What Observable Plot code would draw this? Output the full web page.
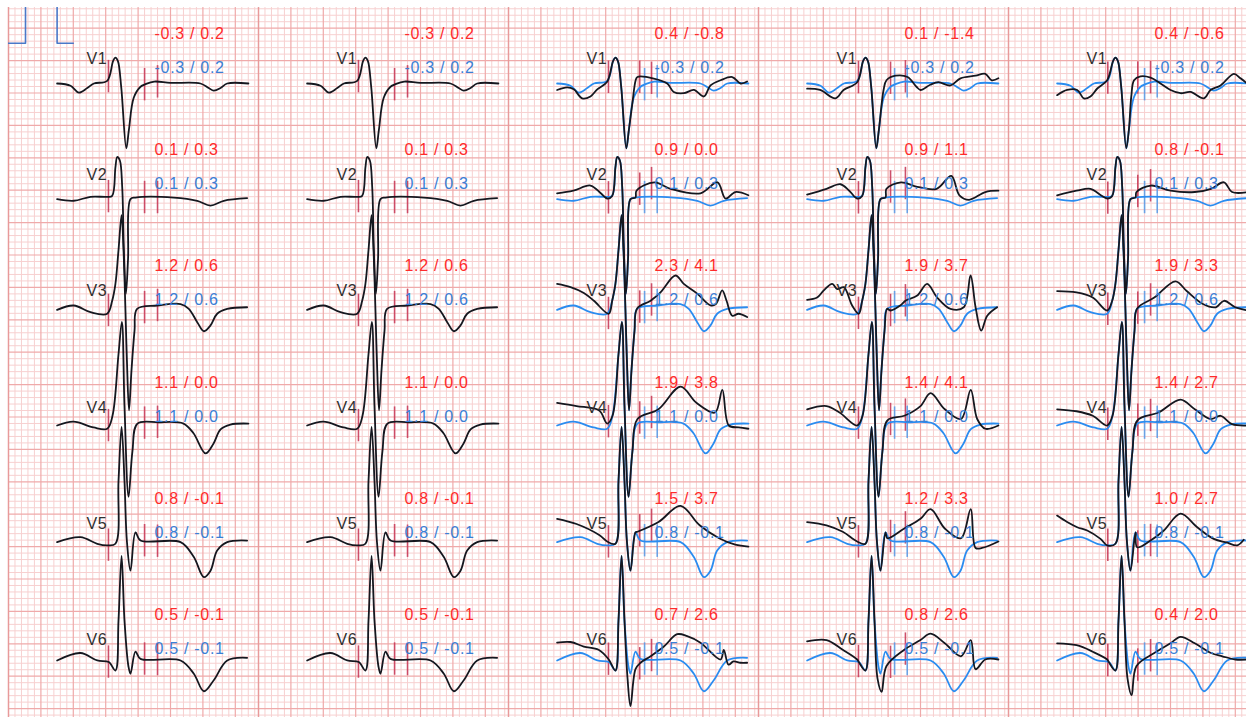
<!DOCTYPE html>
<html><head><meta charset="utf-8">
<script src="https://cdn.jsdelivr.net/npm/d3@7"></script>
<script src="https://cdn.jsdelivr.net/npm/@observablehq/plot@0.6"></script>
<style>html,body{margin:0;padding:0;background:#fff;overflow:hidden}#chart text{letter-spacing:0.7px}</style>
</head><body><div id="chart"></div>
<script>
// ---------- data ----------
const leads = ["V1","V2","V3","V4","V5","V6"];

// ST values shown in red per column (lead order V1..V6)
const redCol1 = ["-0.3 / 0.2","0.1 / 0.3","1.2 / 0.6","1.1 / 0.0","0.8 / -0.1","0.5 / -0.1"];
const redCol2 = ["-0.3 / 0.2","0.1 / 0.3","1.2 / 0.6","1.1 / 0.0","0.8 / -0.1","0.5 / -0.1"];
const redCol3 = ["0.4 / -0.8","0.9 / 0.0","2.3 / 4.1","1.9 / 3.8","1.5 / 3.7","0.7 / 2.6"];
const redCol4 = ["0.1 / -1.4","0.9 / 1.1","1.9 / 3.7","1.4 / 4.1","1.2 / 3.3","0.8 / 2.6"];
const redCol5 = ["0.4 / -0.6","0.8 / -0.1","1.9 / 3.3","1.4 / 2.7","1.0 / 2.7","0.4 / 2.0"];
// reference values shown in blue (same in every column)
const blueLabels = ["-0.3 / 0.2","0.1 / 0.3","1.2 / 0.6","1.1 / 0.0","0.8 / -0.1","0.5 / -0.1"];

// reference beat per lead: [time ms from column start, amplitude mV]
const tplV1 = [[300,0],[383,-0.035],[434,-0.14],[486,-0.07],[527,0],[609,0.04],[646,0.35],[660,0.40],[675,0.35],[696,-0.06],[727,-1.0],[743,-0.72],[773,-0.22],[815,-0.05],[846,-0.01],[900,0.03],[1000,0.01],[1185,0],[1236,-0.07],[1267,-0.11],[1309,-0.07],[1350,0],[1481,0]];
const tplV2 = [[300,-0.01],[403,-0.035],[506,0.026],[609,0.026],[640,0.04],[660,0.48],[671,0.64],[687,0.59],[702,0.17],[712,-0.8],[725,-1.47],[738,-0.93],[753,-0.01],[784,0.015],[1020,0.015],[1165,-0.035],[1247,-0.11],[1329,-0.035],[1473,0.005]];
const tplV3 = [[300,0.01],[403,0.077],[506,-0.026],[609,-0.05],[640,0.15],[660,0.41],[679,0.93],[698,1.47],[710,0.93],[722,0],[731,-0.77],[744,-1.54],[759,-0.93],[778,-0.31],[794,0.026],[918,0.077],[1062,0.1],[1113,0.026],[1165,-0.18],[1206,-0.32],[1247,-0.23],[1288,-0.05],[1350,0.026],[1473,0.05]];
const tplV4 = [[300,0],[401,0.06],[525,-0.03],[609,-0.05],[642,0.15],[679,1.1],[700,1.6],[716,0.3],[741,-1.1],[765,-0.4],[796,0.03],[926,0.05],[1080,0.03],[1142,-0.12],[1216,-0.43],[1265,-0.28],[1309,-0.06],[1370,0.015],[1481,0.03]];
const tplV5 = [[300,-0.01],[444,0.066],[548,-0.035],[609,-0.06],[660,-0.035],[679,0.93],[698,1.77],[716,0.93],[731,0],[753,-0.45],[784,0.14],[815,0.015],[1062,-0.01],[1144,-0.24],[1206,-0.55],[1247,-0.45],[1288,-0.14],[1350,-0.01],[1473,0.015]];
const tplV6 = [[300,-0.015],[444,0.1],[548,-0.015],[619,-0.04],[660,-0.17],[679,0.6],[698,1.6],[716,0.6],[740,-0.1],[753,-0.22],[784,0.12],[815,0.01],[1062,-0.015],[1144,-0.22],[1206,-0.49],[1267,-0.32],[1350,-0.015],[1473,0.026]];

// current beats (black) in columns 3-5: segment before QRS and after QRS, per lead
const col3Pre = [
  [[300,-0.1],[362,-0.06],[403,-0.09],[455,-0.23],[506,-0.2],[548,-0.09],[609,0.026]],
  [[300,0.08],[400,0.12],[506,0.2],[570,0.08],[609,0]],
  [[300,0.41],[383,0.36],[465,0.27],[527,0.15],[619,-0.05]],
  [[300,0.35],[420,0.3],[560,0.23],[609,0.03]],
  [[300,0.35],[420,0.27],[560,0.1],[609,0]],
  [[300,0.26],[383,0.27],[465,0.2],[556,0.15],[619,0]]];
const col3Post = [
  [[765,-0.3],[785,0.05],[796,0.1],[897,0.077],[980,0],[1020,-0.13],[1082,-0.15],[1144,-0.1],[1206,-0.2],[1247,-0.03],[1309,0.05],[1381,0.1],[1432,0],[1473,0.03]],
  [[790,0.12],[900,0.25],[1000,0.15],[1185,0.08],[1290,0.25],[1340,0.0],[1400,0.1],[1481,0.05]],
  [[794,0.03],[877,0.15],[938,0.28],[1031,0.54],[1082,0.41],[1165,0.26],[1247,0.08],[1280,0.1],[1319,0.31],[1346,0.15],[1381,-0.08],[1420,-0.05],[1473,-0.1]],
  [[796,0.1],[926,0.25],[1062,0.6],[1160,0.35],[1275,0.2],[1320,0.55],[1360,0.0],[1420,-0.03],[1481,-0.05]],
  [[796,0.15],[926,0.3],[1062,0.55],[1180,0.25],[1300,0.05],[1400,-0.05],[1481,-0.08]],
  [[735,-0.3],[753,-0.72],[784,-0.15],[815,-0.05],[877,0.05],[959,0.2],[1041,0.39],[1103,0.36],[1185,0.26],[1309,0],[1329,0.15],[1358,-0.08],[1389,-0.03],[1432,-0.05],[1473,-0.05]]];
const col4Pre = [
  [[300,-0.08],[380,-0.1],[475,-0.23],[525,-0.1],[609,0.02]],
  [[300,0.06],[420,0.15],[506,0.22],[560,0.12],[609,0]],
  [[300,0.165],[362,0.2],[403,0.31],[455,0.41],[486,0.33],[527,0.36],[578,0.077],[619,-0.05]],
  [[300,0.25],[420,0.3],[500,0.2],[609,0]],
  [[300,0.3],[420,0.25],[520,0.15],[609,0]],
  [[300,0.28],[420,0.3],[520,0.15],[609,0]]];
const col4Post = [
  [[772,-0.1],[790,0.05],[846,0.12],[920,0.1],[975,-0.05],[1000,-0.1],[1060,-0.02],[1110,0.02],[1185,-0.03],[1247,0.08],[1340,0.12],[1400,0.15],[1440,0.05],[1481,0.08]],
  [[790,0.15],[880,0.25],[980,0.18],[1100,0.15],[1190,0.35],[1240,0.05],[1300,-0.02],[1400,0.1],[1481,0.12]],
  [[815,0],[877,0.08],[907,0.15],[980,0.23],[1041,0.41],[1103,0.2],[1185,0.026],[1267,0.05],[1309,0.54],[1340,0.05],[1375,-0.31],[1412,-0.08],[1473,0.05]],
  [[796,0.08],[900,0.15],[1000,0.3],[1062,0.5],[1150,0.25],[1250,0.1],[1310,0.55],[1350,0.1],[1400,-0.05],[1481,0.0]],
  [[796,0.05],[900,0.2],[1000,0.35],[1062,0.5],[1150,0.2],[1250,0.05],[1310,0.5],[1340,-0.1],[1380,-0.1],[1481,0.0]],
  [[735,-0.3],[760,-0.5],[790,-0.1],[900,0.15],[1000,0.3],[1062,0.4],[1150,0.25],[1250,0.05],[1310,0.3],[1340,-0.15],[1400,0],[1481,0]]];
const col5Pre = [
  [[300,-0.18],[362,-0.1],[424,-0.1],[465,-0.23],[506,-0.2],[548,-0.077],[609,0.05]],
  [[300,0.05],[420,0.12],[506,0.15],[570,0.05],[609,0]],
  [[300,0.3],[420,0.28],[520,0.2],[609,0]],
  [[300,0.25],[420,0.22],[520,0.15],[609,0]],
  [[300,0.4],[362,0.3],[424,0.22],[486,0.17],[568,0.04],[609,-0.06]],
  [[300,0.25],[420,0.22],[520,0.12],[609,0]]];
const col5Post = [
  [[758,-0.2],[775,0.05],[815,0.11],[877,0.09],[938,0],[1000,-0.1],[1062,-0.15],[1123,-0.13],[1206,-0.23],[1247,-0.1],[1309,-0.03],[1391,0.15],[1432,0.08],[1473,0]],
  [[790,0.1],[880,0.2],[1000,0.12],[1150,0.1],[1250,0.15],[1330,0.25],[1380,0.1],[1481,0.1]],
  [[794,0.03],[900,0.2],[1031,0.45],[1100,0.3],[1200,0.1],[1280,0.05],[1330,0.15],[1400,0.05],[1481,0.0]],
  [[796,0.08],[926,0.2],[1062,0.4],[1150,0.25],[1250,0.1],[1310,0.15],[1380,0.02],[1481,0]],
  [[794,-0.09],[877,0.015],[959,0.17],[1062,0.43],[1165,0.22],[1267,0.04],[1346,-0.015],[1412,-0.06],[1452,0.026]],
  [[735,-0.3],[760,-0.55],[790,-0.1],[900,0.1],[1000,0.25],[1062,0.35],[1150,0.25],[1250,0.1],[1320,0.05],[1400,0],[1481,0]]];

// caliper marks (ms from column start)
const redMarksCol12 = [617, 840, 920];
const redMarksCol3 = [617, 810, 883];
const redMarksCol4 = [617, 815, 907];
const redMarksCol5 = [613, 798, 877];
const blueMarks = [840, 918];

// calibration pulse of the strip above (ms, mV)
const calibration = [[0,0],[105,0],[105,1],[300,1],[300,0],[400,0]];

// ---------- layout ----------
const W = 1246, H = 717;
const PX_PER_MM = 6.48, MM_PER_MS = 0.025, MM_PER_MV = 10;
const colLeftPx = c => 8 + 250 * c;
const baselinePx = [83, 198, 310, 425, 541, 659];
const rowPitch = 116.3;
const toX = (c, t) => colLeftPx(c) / PX_PER_MM + t * MM_PER_MS;
const toY = (l, v) => baselinePx[l] / PX_PER_MM - v * MM_PER_MV;

const templates = [tplV1, tplV2, tplV3, tplV4, tplV5, tplV6];
const redCols = [redCol1, redCol2, redCol3, redCol4, redCol5];
const pres = [null, null, col3Pre, col4Pre, col5Pre];
const posts = [null, null, col3Post, col4Post, col5Post];
const redMarks = [redMarksCol12, redMarksCol12, redMarksCol3, redMarksCol4, redMarksCol5];

function compose(tpl, pre, post) {
  const a = pre[pre.length - 1][0], b = post[0][0];
  return [...pre, ...tpl.filter(d => d[0] > a && d[0] < b), ...post];
}
function valueAt(pts, t) {
  for (let i = 1; i < pts.length; i++) {
    if (pts[i][0] >= t) {
      const [t0, v0] = pts[i - 1], [t1, v1] = pts[i];
      return v0 + (v1 - v0) * (t - t0) / (t1 - t0);
    }
  }
  return pts[pts.length - 1][1];
}

const blueRows = [], blackRows = [], redMarkRows = [], blueMarkRows = [], textRows = [];
for (let c = 0; c < 5; c++) {
  for (let l = 0; l < 6; l++) {
    const tpl = templates[l];
    const cur = c < 2 ? tpl : compose(tpl, pres[c][l], posts[c][l]);
    if (c >= 2) tpl.forEach(([t, v]) => blueRows.push({z: `${c}-${l}`, x: toX(c, t), y: toY(l, v)}));
    cur.forEach(([t, v]) => blackRows.push({z: `${c}-${l}`, x: toX(c, t), y: toY(l, v)}));
    redMarks[c].forEach(t => {
      const v = valueAt(cur, t);
      redMarkRows.push({x: toX(c, t), y1: toY(l, v + 0.25), y2: toY(l, v - 0.25)});
    });
    if (c >= 2) blueMarks.forEach(t => {
      const v = valueAt(tpl, t);
      blueMarkRows.push({x: toX(c, t), y1: toY(l, v + 0.25), y2: toY(l, v - 0.25)});
    });
    const xText = (colLeftPx(c) + 146) / PX_PER_MM;
    textRows.push({x: xText, y: (33 + rowPitch * l) / PX_PER_MM, text: redCols[c][l], fill: "#ff2b2b"});
    textRows.push({x: xText, y: (67 + rowPitch * l) / PX_PER_MM, text: blueLabels[l], fill: "#3a7fd6"});
    textRows.push({x: (colLeftPx(c) + 78) / PX_PER_MM, y: (58 + rowPitch * l) / PX_PER_MM, text: leads[l], fill: "#303030"});
  }
}
const calRows = calibration.map(([t, v]) => ({x: toX(0, t), y: 42.7 / PX_PER_MM - v * MM_PER_MV}));

// grid (1 mm minor, 5 mm major)
const vMinor = [], vMajor = [], vSep = [];
for (let c = 0; c < 5; c++) {
  for (let k = 0; k * PX_PER_MM < 249.5; k++) {
    const xpx = colLeftPx(c) + k * PX_PER_MM;
    if (xpx > W) break;
    const xm = xpx / PX_PER_MM;
    if (k === 0) vSep.push(xm); else if (k % 5 === 0) vMajor.push(xm); else vMinor.push(xm);
  }
}
const hMinor = [], hMajor = [];
for (let k = 0; ; k++) {
  const ypx = -4.7 + PX_PER_MM * k;
  if (ypx > H + 1) break;
  if (ypx < 7) continue;
  (k % 5 === 0 ? hMajor : hMinor).push(ypx / PX_PER_MM);
}

const font = "'Liberation Sans', Arial, Helvetica, sans-serif";
const chart = Plot.plot({
  width: W, height: H,
  marginTop: 7, marginLeft: 8, marginRight: 0, marginBottom: 0,
  x: {domain: [8 / PX_PER_MM, W / PX_PER_MM], range: [8, W], axis: null},
  y: {domain: [7 / PX_PER_MM, H / PX_PER_MM], range: [7, H], axis: null},
  style: {background: "#fff"},
  marks: [
    Plot.ruleX(vMinor, {stroke: "#f7d0d0", strokeWidth: 1}),
    Plot.ruleY(hMinor, {stroke: "#f7d0d0", strokeWidth: 1}),
    Plot.ruleX(vMajor, {stroke: "#efaaaa", strokeWidth: 1.2}),
    Plot.ruleY(hMajor, {stroke: "#efaaaa", strokeWidth: 1.2}),
    Plot.ruleX(vSep, {stroke: "#e89a9a", strokeWidth: 1.5}),
    Plot.line(calRows, {x: "x", y: "y", stroke: "#4a78c8", strokeWidth: 1.6, clip: true}),
    Plot.ruleX(redMarkRows, {x: "x", y1: "y1", y2: "y2", stroke: "#c83c5a", strokeWidth: 1.6, strokeOpacity: 0.9}),
    Plot.ruleX(blueMarkRows, {x: "x", y1: "y1", y2: "y2", stroke: "#5b9be6", strokeWidth: 1.6, strokeOpacity: 0.9}),
    Plot.line(blueRows, {x: "x", y: "y", z: "z", stroke: "#2a8cf0", strokeWidth: 1.8, curve: "catmull-rom", clip: true}),
    Plot.line(blackRows, {x: "x", y: "y", z: "z", stroke: "#15171f", strokeWidth: 1.8, curve: "catmull-rom", clip: true}),
    Plot.text(textRows, {x: "x", y: "y", text: "text", fill: "fill", fontSize: 16, textAnchor: "start", fontFamily: font})
  ]
});
document.getElementById("chart").appendChild(chart);
</script>
</body></html>
